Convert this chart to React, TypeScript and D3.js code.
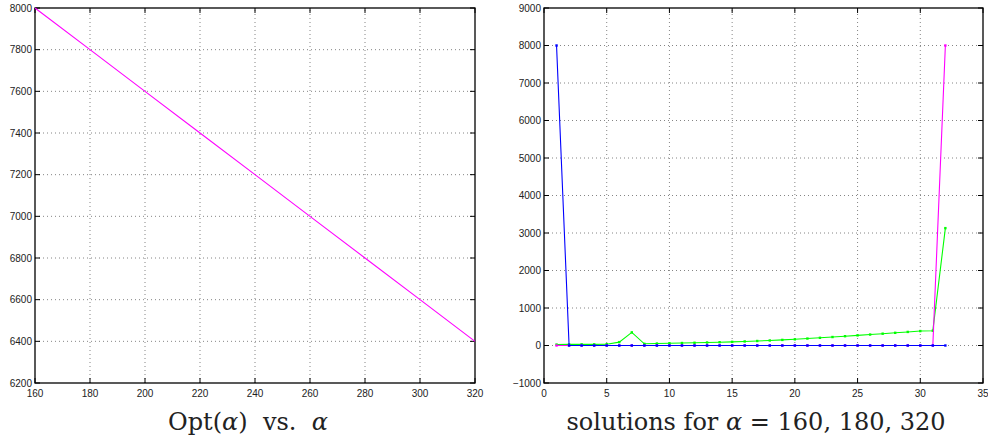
import React, { useEffect, useRef } from 'react';
import * as d3 from 'd3';

// left panel: optimal value vs alpha
const alphaValues = [160, 180, 200, 220, 240, 260, 280, 300, 320];
const optValues = [8000, 7800, 7600, 7400, 7200, 7000, 6800, 6600, 6400];
const leftXTicks = [160, 180, 200, 220, 240, 260, 280, 300, 320];
const leftYTicks = [6200, 6400, 6600, 6800, 7000, 7200, 7400, 7600, 7800, 8000];

// right panel: solution vectors
const indices = [1, 2, 3, 4, 5, 6, 7, 8, 9, 10, 11, 12, 13, 14, 15, 16, 17, 18, 19, 20, 21, 22, 23, 24, 25, 26, 27, 28, 29, 30, 31, 32];
const solution160 = [8000, 0, 0, 0, 0, 0, 0, 0, 0, 0, 0, 0, 0, 0, 0, 0, 0, 0, 0, 0, 0, 0, 0, 0, 0, 0, 0, 0, 0, 0, 0, 0];
const solution180 = [25, 30, 30, 30, 35, 90, 350, 45, 52, 60, 66, 73, 80, 88, 97, 108, 120, 134, 149, 165, 185, 205, 226, 248, 270, 292, 315, 338, 362, 385, 395, 3130];
const solution320 = [0, 0, 0, 0, 0, 0, 0, 0, 0, 0, 0, 0, 0, 0, 0, 0, 0, 0, 0, 0, 0, 0, 0, 0, 0, 0, 0, 0, 0, 0, 0, 8000];
const rightXTicks = [0, 5, 10, 15, 20, 25, 30, 35];
const rightYTicks = [-1000, 0, 1000, 2000, 3000, 4000, 5000, 6000, 7000, 8000, 9000];

const tickFont = '"Liberation Sans", Arial, sans-serif';
const titleFont = '"DejaVu Serif", serif';

function drawPanel(g, x, y, xTicks, yTicks) {
  const [x0, x1] = x.range();
  const [y0, y1] = y.range();
  const tl = 5;

  // dotted grid
  g.append('g')
    .selectAll('line')
    .data(xTicks.slice(1, -1))
    .join('line')
    .attr('x1', d => x(d)).attr('x2', d => x(d))
    .attr('y1', y0).attr('y2', y1)
    .attr('stroke', '#666').attr('stroke-width', 0.8)
    .attr('stroke-dasharray', '1,3');
  g.append('g')
    .selectAll('line')
    .data(yTicks.slice(1, -1))
    .join('line')
    .attr('x1', x0).attr('x2', x1)
    .attr('y1', d => y(d)).attr('y2', d => y(d))
    .attr('stroke', '#666').attr('stroke-width', 0.8)
    .attr('stroke-dasharray', '1,3');

  // inward ticks on all four sides
  const ticks = g.append('g').attr('stroke', '#000').attr('stroke-width', 1);
  xTicks.forEach(d => {
    ticks.append('line').attr('x1', x(d)).attr('x2', x(d)).attr('y1', y0).attr('y2', y0 - tl);
    ticks.append('line').attr('x1', x(d)).attr('x2', x(d)).attr('y1', y1).attr('y2', y1 + tl);
  });
  yTicks.forEach(d => {
    ticks.append('line').attr('x1', x0).attr('x2', x0 + tl).attr('y1', y(d)).attr('y2', y(d));
    ticks.append('line').attr('x1', x1).attr('x2', x1 - tl).attr('y1', y(d)).attr('y2', y(d));
  });

  // tick labels
  g.append('g')
    .selectAll('text')
    .data(xTicks)
    .join('text')
    .attr('x', d => x(d)).attr('y', y0 + 14)
    .attr('text-anchor', 'middle')
    .attr('font-family', tickFont).attr('font-size', 10).attr('fill', '#222')
    .text(d => d);
  g.append('g')
    .selectAll('text')
    .data(yTicks)
    .join('text')
    .attr('x', x0 - 3).attr('y', d => y(d) + 3.5)
    .attr('text-anchor', 'end')
    .attr('font-family', tickFont).attr('font-size', 10).attr('fill', '#222')
    .text(d => (d < 0 ? '\u2212' + Math.abs(d) : d));

  // box
  g.append('rect')
    .attr('x', x0).attr('y', y1)
    .attr('width', x1 - x0).attr('height', y0 - y1)
    .attr('fill', 'none').attr('stroke', '#000').attr('stroke-width', 1.3);
}

function drawTitle(svg, cx, parts) {
  const t = svg.append('text')
    .attr('x', cx).attr('y', 430)
    .attr('text-anchor', 'middle')
    .attr('font-family', titleFont).attr('font-size', 24).attr('fill', '#222')
    .attr('xml:space', 'preserve')
    .style('white-space', 'pre');
  parts.forEach(([s, italic]) => {
    t.append('tspan').attr('font-style', italic ? 'italic' : 'normal').text(s);
  });
}

const App = () => {
  const ref = useRef(null);

  useEffect(() => {
    const svg = d3.select(ref.current);
    svg.selectAll('*').remove();

    // left panel
    const xl = d3.scaleLinear().domain([160, 320]).range([35, 475]);
    const yl = d3.scaleLinear().domain([6200, 8000]).range([383, 8]);
    const gl = svg.append('g');
    drawPanel(gl, xl, yl, leftXTicks, leftYTicks);
    const lineL = d3.line().x(d => xl(d[0])).y(d => yl(d[1]));
    gl.append('path')
      .datum(d3.zip(alphaValues, optValues))
      .attr('fill', 'none').attr('stroke', '#ff00ff').attr('stroke-width', 1.1)
      .attr('d', lineL);

    // right panel
    const xr = d3.scaleLinear().domain([0, 35]).range([544, 983]);
    const yr = d3.scaleLinear().domain([-1000, 9000]).range([383, 8]);
    const gr = svg.append('g');
    drawPanel(gr, xr, yr, rightXTicks, rightYTicks);
    const lineR = d3.line().x(d => xr(d[0])).y(d => yr(d[1]));
    const series = [
      { values: solution180, color: '#00ff00' },
      { values: solution320, color: '#ff00ff' },
      { values: solution160, color: '#0000ff' },
    ];
    series.forEach(s => {
      const pts = d3.zip(indices, s.values);
      gr.append('path')
        .datum(pts)
        .attr('fill', 'none').attr('stroke', s.color).attr('stroke-width', 1.1)
        .attr('d', lineR);
      gr.append('g')
        .selectAll('rect')
        .data(pts)
        .join('rect')
        .attr('x', d => xr(d[0]) - 1.2).attr('y', d => yr(d[1]) - 1.2)
        .attr('width', 2.4).attr('height', 2.4)
        .attr('fill', s.color);
    });

    drawTitle(svg, 248, [['Opt(', false], ['\u03b1', true], [')  vs.  ', false], ['\u03b1', true]]);
    drawTitle(svg, 756, [['solutions for ', false], ['\u03b1', true], [' = 160, 180, 320', false]]);
  }, []);

  return (
    <svg
      ref={ref}
      width={988}
      height={443}
      style={{ position: 'absolute', left: 0, top: 0, background: '#fff' }}
    />
  );
};

export default App;
